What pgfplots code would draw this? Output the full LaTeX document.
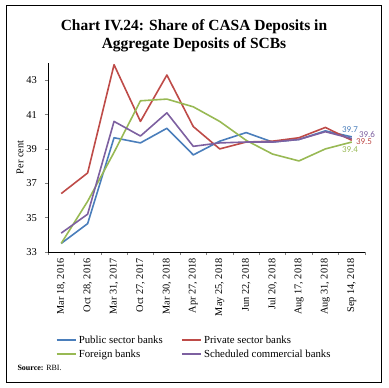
\documentclass[border=0pt]{standalone}
\usepackage{pgfplots}
\pgfplotsset{compat=1.18}
\usepackage{fontspec}
\setmainfont{Liberation Serif}
\newfontfamily\lblfont{Carlito}
\definecolor{cblue}{RGB}{74,126,187}
\definecolor{cred}{RGB}{190,75,72}
\definecolor{cgreen}{RGB}{152,185,84}
\definecolor{cpurple}{RGB}{125,96,160}
\begin{document}
\begin{tikzpicture}[x=1pt,y=1pt]
\useasboundingbox (0,0) rectangle (389,-388);
\draw[line width=0.8pt] (6,-5) rectangle (381,-382);
\node[font=\bfseries\fontsize{15.5}{17.5}\selectfont, align=center] at (194,-36) {Chart IV.24: Share of CASA Deposits in\\Aggregate Deposits of SCBs};
\begin{axis}[
  at={(48pt,-252pt)}, anchor=south west,
  scale only axis, width=317pt, height=189pt,
  xmin=-0.5, xmax=11.5, ymin=33, ymax=44,
  axis lines=left, axis line style={-, line width=0.6pt},
  tick align=outside,
  ytick={33,35,37,39,41,43},
  xtick={0,...,11},
  xticklabels={Mar 18{,} 2016,Oct 28{,} 2016,Mar 31{,} 2017,Oct 27{,} 2017,Mar 30{,} 2018,Apr 27{,} 2018,May 25{,} 2018,Jun 22{,} 2018,Jul 20{,} 2018,Aug 17{,} 2018,Aug 31{,} 2018,Sep 14{,} 2018},
  minor xtick={-0.5,0.5,...,11.5},
  major x tick style={draw=none},
  minor x tick style={line width=0.6pt},
  y tick style={line width=0.6pt},
  major tick length=3pt, minor tick length=3pt,
  xticklabel style={rotate=90, anchor=east, font=\fontsize{10.3}{12}\selectfont},
  yticklabel style={font=\fontsize{10.5}{12}\selectfont, xshift=-4.5pt},
  /pgf/number format/assume math mode=true,
  ylabel={Per cent},
  every axis y label/.style={at={(rel axis cs:0,0.5)}, rotate=90, anchor=center, yshift=28pt, font=\fontsize{10.3}{12}\selectfont},
  legend columns=2,
  legend cell align=left,
  legend style={at={(0.014,-0.42)}, anchor=north west, draw=none, fill=none, font=\fontsize{10.8}{13}\selectfont, row sep=1pt},
  legend image code/.code={\draw[#1, line width=2.2pt] (0pt,0pt) -- (19pt,0pt);},
  /tikz/every even column/.append style={column sep=16pt},
  line join=round,
]
\addplot[cblue, line width=1.6pt] coordinates {(0,33.5)(1,34.65)(2,39.65)(3,39.35)(4,40.2)(5,38.65)(6,39.45)(7,39.95)(8,39.4)(9,39.55)(10,40.05)(11,39.7)};
\addlegendentry{Public sector banks}
\addplot[cred, line width=1.6pt] coordinates {(0,36.4)(1,37.6)(2,43.9)(3,40.6)(4,43.3)(5,40.3)(6,39.0)(7,39.4)(8,39.45)(9,39.65)(10,40.25)(11,39.5)};
\addlegendentry{Private sector banks}
\addplot[cgreen, line width=1.6pt] coordinates {(0,33.5)(1,35.95)(2,38.8)(3,41.8)(4,41.9)(5,41.45)(6,40.6)(7,39.5)(8,38.7)(9,38.3)(10,39.0)(11,39.4)};
\addlegendentry{Foreign banks}
\addplot[cpurple, line width=1.6pt] coordinates {(0,34.1)(1,35.2)(2,40.6)(3,39.75)(4,41.1)(5,39.15)(6,39.35)(7,39.4)(8,39.4)(9,39.55)(10,40.0)(11,39.6)};
\addlegendentry{Scheduled commercial banks}
\end{axis}
\node[font=\lblfont\fontsize{9}{10}\selectfont, text=cblue] at (350,-130) {39.7};
\node[font=\lblfont\fontsize{9}{10}\selectfont, text=cpurple] at (367,-134) {39.6};
\node[font=\lblfont\fontsize{9}{10}\selectfont, text=cred] at (364,-142) {39.5};
\node[font=\lblfont\fontsize{9}{10}\selectfont, text=cgreen] at (350,-150) {39.4};
\node[anchor=base west, font=\fontsize{8}{9}\selectfont] at (14,-370) {\textbf{Source:} RBI.};
\end{tikzpicture}
\end{document}
